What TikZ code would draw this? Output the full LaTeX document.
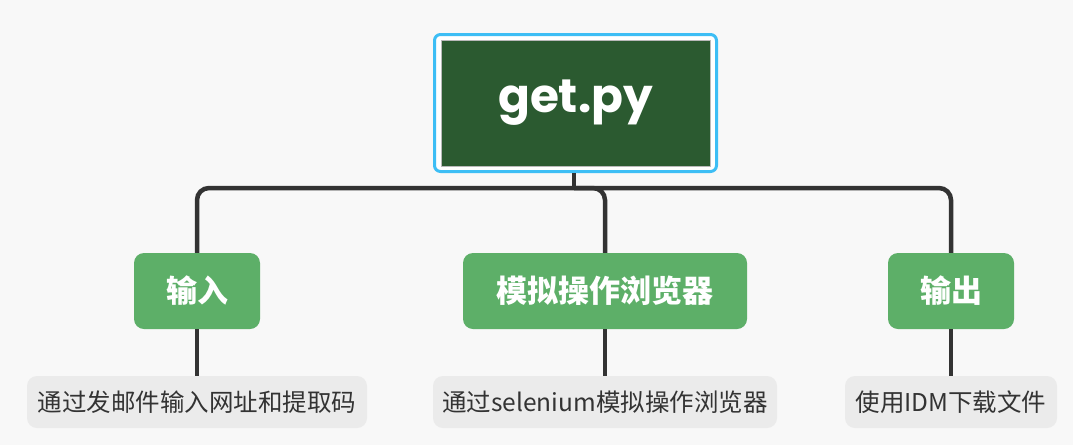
\documentclass[tikz,border=0pt]{standalone}
\usepackage{fontspec}
\newfontfamily\cjk{Noto Sans CJK SC}
\newfontfamily\pop{Poppins}
\definecolor{bgc}{HTML}{F8F8F8}
\definecolor{rootg}{HTML}{2B5A30}
\definecolor{rootb}{HTML}{3DBEF5}
\definecolor{childg}{HTML}{5DAF68}
\definecolor{leafg}{HTML}{EBEBEB}
\definecolor{linec}{HTML}{333333}
\tikzset{
  rootouter/.style={draw=rootb, line width=3pt, fill=white, rounded corners=6pt, minimum width=282pt, minimum height=137pt, inner sep=0pt},
  rootinner/.style={draw=gray!55, line width=1pt, fill=rootg, minimum width=269pt, minimum height=126pt, inner sep=0pt, text=white, font=\pop\bfseries\fontsize{47}{54}\selectfont},
  childbox/.style={fill=childg, rounded corners=10pt, minimum height=76pt, inner sep=0pt, text=white, font=\cjk\bfseries\fontsize{31}{36}\selectfont},
  leafbox/.style={fill=leafg, rounded corners=10pt, minimum height=52pt, inner sep=0pt, text=linec, font=\cjk\fontsize{24.5}{28}\selectfont},
  conn/.style={draw=linec, line width=4.5pt, rounded corners=12pt},
  connthin/.style={draw=linec, line width=3.5pt}
}
\begin{document}
\begin{tikzpicture}[x=1pt,y=-1pt]
\fill[bgc] (0,0) rectangle (1073,445);
\useasboundingbox (0,0) rectangle (1073,445);
\node[rootouter] (rootb) at (575.5,103) {};
\node[rootinner] (root) at (575.5,103) {get.py};
\node[childbox, minimum width=126pt] (c1) at (197,291) {输入};
\node[childbox, minimum width=284pt] (c2) at (605,291) {模拟操作浏览器};
\node[childbox, minimum width=126pt] (c3) at (951,291) {输出};
\node[leafbox, minimum width=340pt] (l1) at (197,402) {通过发邮件输入网址和提取码};
\node[leafbox, minimum width=344pt] (l2) at (605,402) {通过selenium模拟操作浏览器};
\node[leafbox, minimum width=212pt] (l3) at (951,402) {使用IDM下载文件};
\coordinate (jn) at (574,188);
\draw[conn] (rootb.south -| jn) -- (jn);
\draw[conn] (c1.north) |- (jn);
\draw[conn] (c3.north) |- (jn);
\draw[conn] (c2.north) |- (jn);
\draw[connthin] (c1.south) -- (l1.north);
\draw[connthin] (c2.south) -- (l2.north);
\draw[connthin] (c3.south) -- (l3.north);
\end{tikzpicture}
\end{document}
